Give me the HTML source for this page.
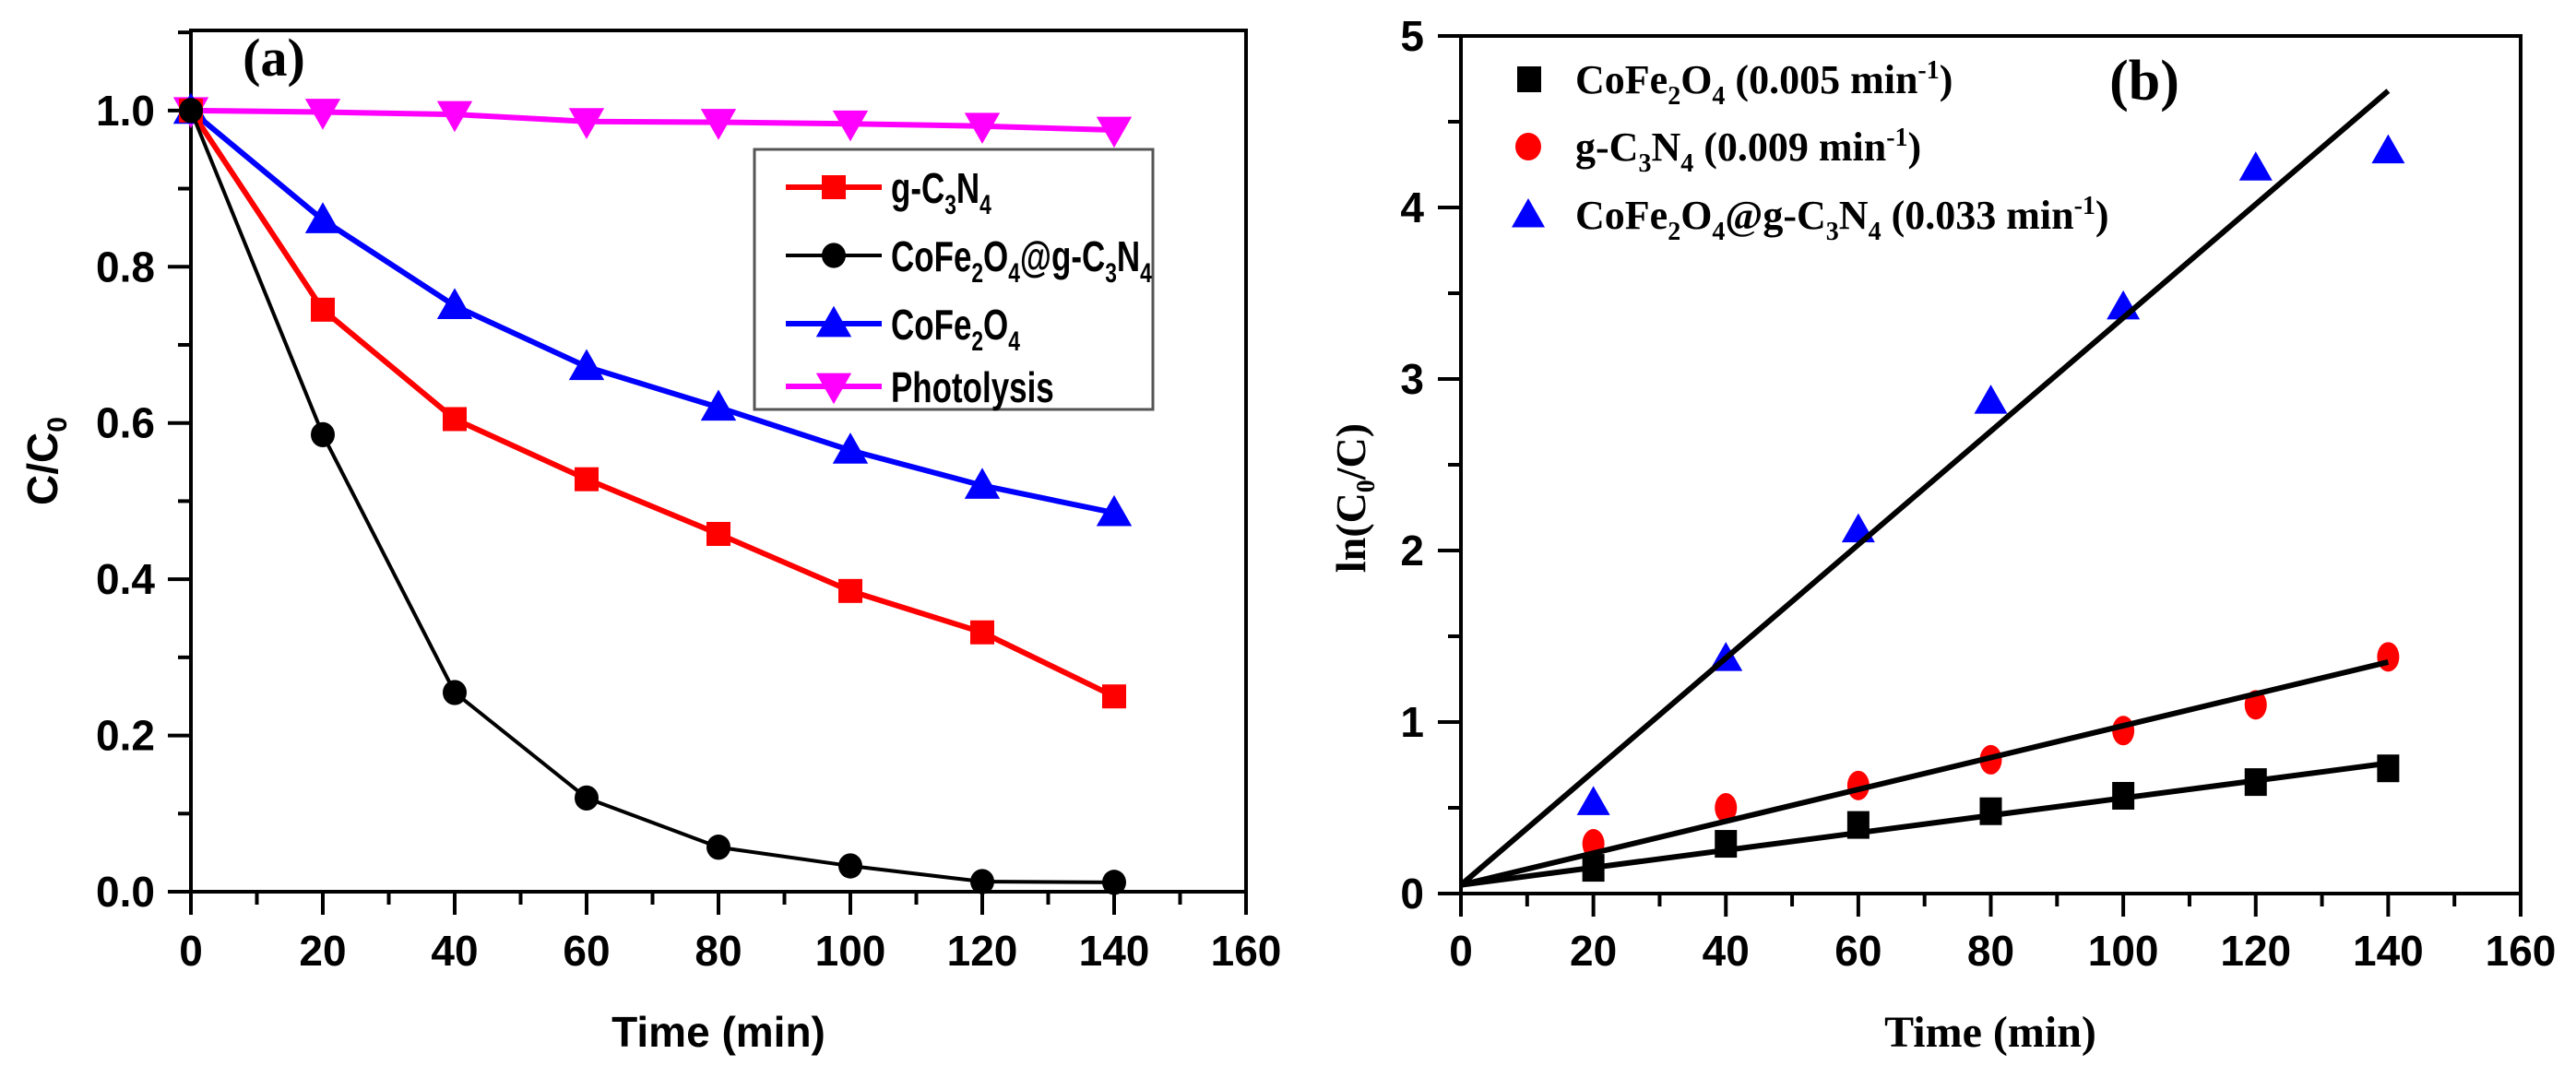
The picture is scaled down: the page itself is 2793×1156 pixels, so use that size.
<!DOCTYPE html>
<html><head><meta charset="utf-8"><style>
html,body{margin:0;padding:0;background:#fff;}
svg{display:block;}
.tk{font-family:"Liberation Sans",Arial,sans-serif;font-weight:bold;font-size:46px;fill:#000;}
.tr{font-family:"Liberation Serif","Times New Roman",serif;font-weight:bold;fill:#000;}
</style></head><body>
<svg id="chart" width="2793" height="1156" viewBox="0 0 2793 1156" xmlns="http://www.w3.org/2000/svg">
<rect width="2793" height="1156" fill="#fff"/>
<g id="pa"></g>
<g id="pb"></g>
</svg>
<script>
// Panel (a) data
const timesA = [0,20,40,60,80,100,120,140];
const gC3N4 = [1,0.745,0.605,0.528,0.458,0.385,0.332,0.25];
const composite = [1,0.585,0.255,0.12,0.057,0.033,0.013,0.012];
const cofe2o4 = [1,0.86,0.75,0.672,0.62,0.565,0.52,0.485];
const photolysis = [1,0.998,0.995,0.986,0.985,0.983,0.98,0.975];
const xTicksA = [0,20,40,60,80,100,120,140,160];
const yTicksA = ["0.0","0.2","0.4","0.6","0.8","1.0"];
// Panel (b) data
const timesB = [20,40,60,80,100,120,140];
const lnCofe = [0.15,0.29,0.4,0.48,0.57,0.65,0.73];
const lnGcn = [0.29,0.5,0.63,0.78,0.95,1.1,1.38];
const lnComp = [0.53,1.37,2.12,2.87,3.42,4.23,4.33];
const fitStart = [0.05,0.05,0.05];
const fitEnd = [0.76,1.35,4.68];
const fitEndTime = 140;
const yTicksB = [0,1,2,3,4,5];

const NS="http://www.w3.org/2000/svg";
function mk(parent,tag,attrs,text){const e=document.createElementNS(NS,tag);for(const k in attrs)e.setAttribute(k,attrs[k]);if(text!==undefined)e.textContent=text;parent.appendChild(e);return e;}

// ---------- Panel A ----------
const A={x0:207,x1:1351,y0:967,y1:33,xmax:160,ymax:1.1025};
const ax=v=>A.x0+(A.x1-A.x0)*v/A.xmax;
const ay=v=>A.y0-(A.y0-A.y1)*v/A.ymax;
const pa=document.getElementById('pa');
let e=mk(pa,'rect',{x:A.x0,y:A.y1,width:A.x1-A.x0,height:A.y0-A.y1,fill:'none',stroke:'#000','stroke-width':4});


for(let v=0;v<=160;v+=10){const maj=v%20===0;e=mk(pa,'line',{x1:ax(v),x2:ax(v),y1:A.y0,y2:A.y0+(maj?25:14),stroke:'#000','stroke-width':4});

}
xTicksA.forEach(v=>{e=mk(pa,'text',{x:ax(v),y:1047,'text-anchor':'middle',class:'tk'},String(v));

});
for(let i=0;i<=11;i++){const v=i*0.1;const maj=i%2===0;e=mk(pa,'line',{x1:A.x0-(maj?25:14),x2:A.x0,y1:ay(v),y2:ay(v),stroke:'#000','stroke-width':4});

}
yTicksA.forEach(t=>{e=mk(pa,'text',{x:168,y:ay(parseFloat(t))+16,'text-anchor':'end',class:'tk'},t);

});
e=mk(pa,'text',{x:779,y:1135,'text-anchor':'middle',class:'tk'},'Time (min)');


e=mk(pa,'text',{x:0,y:0,'text-anchor':'middle',class:'tk',transform:'translate(62,500) rotate(-90)'});


e.innerHTML='C/C<tspan font-size="30" dy="10">0</tspan>';
e=mk(pa,'text',{x:297,y:82,'text-anchor':'middle',class:'tr','font-size':58},'(a)');



function marker(g,type,x,y,color,s){
  if(type==='sq')return mk(g,'rect',{x:x-s/2,y:y-s/2,width:s,height:s,fill:color});
  if(type==='ci')return mk(g,'ellipse',{cx:x,cy:y,rx:s/2,ry:s/2*1.05,fill:color});
  if(type==='tu')return mk(g,'polygon',{points:`${x},${y-s*0.6} ${x-s*0.6},${y+s*0.45} ${x+s*0.6},${y+s*0.45}`,fill:color});
  return mk(g,'polygon',{points:`${x},${y+s*0.6} ${x-s*0.6},${y-s*0.45} ${x+s*0.6},${y-s*0.45}`,fill:color});
}
const seriesA=[[photolysis,'#ff00ff','td',6,'photolysis'],[cofe2o4,'#0000ff','tu',6,'cofe2o4'],[gC3N4,'#ff0000','sq',6,'g-c3n4'],[composite,'#000','ci',4,'cofe2o4-g-c3n4']];
seriesA.forEach(([vals,col,m,w,nm])=>{
  const g=mk(pa,'g',{});
  
  
  const pts=vals.map((v,i)=>ax(timesA[i])+','+ay(v)).join(' ');
  e=mk(g,'polyline',{points:pts,fill:'none',stroke:col,'stroke-width':w,'stroke-linejoin':'round'});
  
  
  vals.forEach((v,i)=>{e=marker(g,m,ax(timesA[i]),ay(v),col,m==='sq'||m==='ci'?26:32);
  
  });
});
// legend a
const lg=mk(pa,'g',{});


e=mk(lg,'rect',{x:818,y:162,width:432,height:282,fill:'#fff',stroke:'#555','stroke-width':3});


const legA=[['#ff0000','sq',6,'g-C<tspan font-size="30" dy="12">3</tspan><tspan dy="-12">N</tspan><tspan font-size="30" dy="12">4</tspan>'],
['#000','ci',4,'CoFe<tspan font-size="30" dy="12">2</tspan><tspan dy="-12">O</tspan><tspan font-size="30" dy="12">4</tspan><tspan dy="-12">@g-C</tspan><tspan font-size="30" dy="12">3</tspan><tspan dy="-12">N</tspan><tspan font-size="30" dy="12">4</tspan>'],
['#0000ff','tu',6,'CoFe<tspan font-size="30" dy="12">2</tspan><tspan dy="-12">O</tspan><tspan font-size="30" dy="12">4</tspan>'],
['#ff00ff','td',6,'Photolysis']];
const legY=[203,277,351,419];
legA.forEach(([col,m,w,html],i)=>{
  const g=mk(lg,'g',{});
  
  
  const y=legY[i];
  mk(g,'line',{x1:852,x2:956,y1:y,y2:y,stroke:col,'stroke-width':w});
  marker(g,m,904,y,col,m==='sq'||m==='ci'?26:32);
  const t=mk(g,'text',{x:0,y:0,class:'tk','font-size':46,transform:`translate(966,${y+17}) scale(0.76,1)`});
  t.innerHTML=html;
});

// ---------- Panel B ----------
const B={x0:1584,x1:2733,y0:969,y1:39,xmax:160,ymax:5};
const bx=v=>B.x0+(B.x1-B.x0)*v/B.xmax;
const by=v=>B.y0-(B.y0-B.y1)*v/B.ymax;
const pb=document.getElementById('pb');
e=mk(pb,'rect',{x:B.x0,y:B.y1,width:B.x1-B.x0,height:B.y0-B.y1,fill:'none',stroke:'#000','stroke-width':4});


for(let v=0;v<=160;v+=10){const maj=v%20===0;e=mk(pb,'line',{x1:bx(v),x2:bx(v),y1:B.y0,y2:B.y0+(maj?25:14),stroke:'#000','stroke-width':4});

}
xTicksA.forEach(v=>{e=mk(pb,'text',{x:bx(v),y:1047,'text-anchor':'middle',class:'tk'},String(v));

});
for(let i=0;i<=10;i++){const v=i*0.5;const maj=i%2===0;e=mk(pb,'line',{x1:B.x0-(maj?25:14),x2:B.x0,y1:by(v),y2:by(v),stroke:'#000','stroke-width':4});

}
yTicksB.forEach(v=>{e=mk(pb,'text',{x:1544,y:by(v)+16,'text-anchor':'end',class:'tk'},String(v));

});
e=mk(pb,'text',{x:2158,y:1135,'text-anchor':'middle',class:'tr','font-size':48},'Time (min)');


e=mk(pb,'text',{x:0,y:0,'text-anchor':'middle',class:'tr','font-size':46,transform:'translate(1480,540) rotate(-90)'});


e.innerHTML='ln(C<tspan font-size="28" dy="10">0</tspan><tspan dy="-10">/C)</tspan>';
e=mk(pb,'text',{x:2325,y:108,'text-anchor':'middle',class:'tr','font-size':62},'(b)');


const seriesB=[[lnComp,'#0000ff','tu','cofe2o4-g-c3n4',2],[lnGcn,'#ff0000','ci','g-c3n4',1],[lnCofe,'#000','sq','cofe2o4',0]];
seriesB.forEach(([vals,col,m,nm,fi])=>{
  const g=mk(pb,'g',{});
  
  
  vals.forEach((v,i)=>{
    let el;
    if(m==='ci') el=mk(g,'ellipse',{cx:bx(timesB[i]),cy:by(v),rx:12,ry:16,fill:col});
    else if(m==='sq') el=mk(g,'rect',{x:bx(timesB[i])-12,y:by(v)-15,width:24,height:30,fill:col});
    else el=marker(g,'tu',bx(timesB[i]),by(v),col,30);
    
    
  });
  e=mk(g,'line',{x1:bx(0),y1:by(fitStart[fi]),x2:bx(fitEndTime),y2:by(fitEnd[fi]),stroke:'#000','stroke-width':6});
  
  
});
// legend b
const lgb=mk(pb,'g',{});


const legB=[['sq','#000','CoFe<tspan font-size="28" dy="12">2</tspan><tspan dy="-12">O</tspan><tspan font-size="28" dy="12">4</tspan><tspan dy="-12"> (0.005 min</tspan><tspan font-size="28" dy="-16">-1</tspan><tspan dy="16">)</tspan>'],
['ci','#ff0000','g-C<tspan font-size="28" dy="12">3</tspan><tspan dy="-12">N</tspan><tspan font-size="28" dy="12">4</tspan><tspan dy="-12"> (0.009 min</tspan><tspan font-size="28" dy="-16">-1</tspan><tspan dy="16">)</tspan>'],
['tu','#0000ff','CoFe<tspan font-size="28" dy="12">2</tspan><tspan dy="-12">O</tspan><tspan font-size="28" dy="12">4</tspan><tspan dy="-12">@g-C</tspan><tspan font-size="28" dy="12">3</tspan><tspan dy="-12">N</tspan><tspan font-size="28" dy="12">4</tspan><tspan dy="-12"> (0.033 min</tspan><tspan font-size="28" dy="-16">-1</tspan><tspan dy="16">)</tspan>']];
const legBY=[86,159,233];
legB.forEach(([m,col,html],i)=>{
  const g=mk(lgb,'g',{});
  
  
  const y=legBY[i];
  if(m==='sq') mk(g,'rect',{x:1645,y:y-14,width:26,height:28,fill:col});
  else if(m==='ci') mk(g,'ellipse',{cx:1657,cy:y,rx:14,ry:15,fill:col});
  else marker(g,'tu',1657,y,col,30);
  const t=mk(g,'text',{x:1708,y:y+15,class:'tr','font-size':44});
  t.innerHTML=html;
});
</script>
</body></html>
